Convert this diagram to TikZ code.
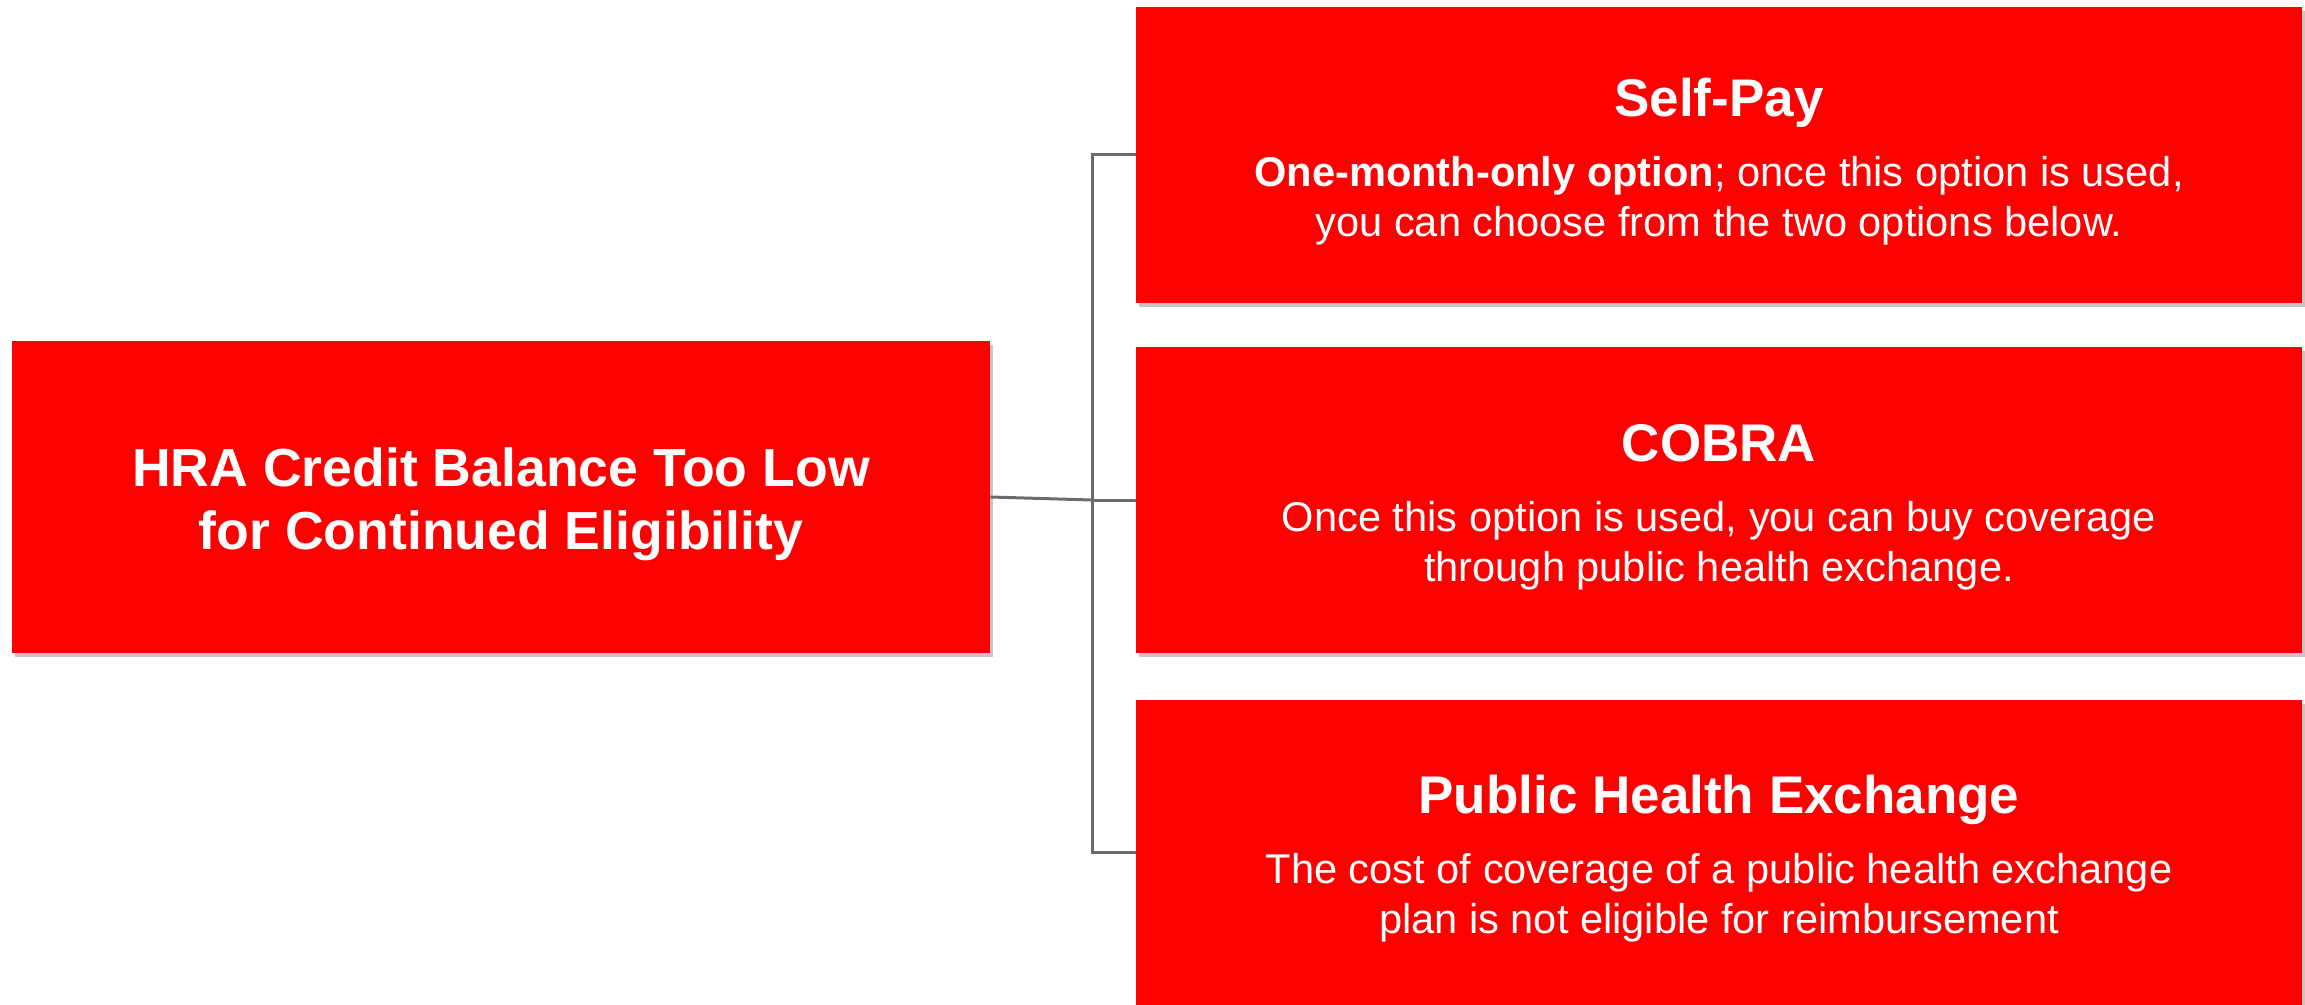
\documentclass[tikz,border=0pt]{standalone}
\usepackage{fontspec}
\setmainfont{Liberation Sans}
\usetikzlibrary{shadows}

\definecolor{boxred}{HTML}{FD0000}
\definecolor{linegray}{HTML}{6B6B6B}

\tikzset{
  redbox/.style={fill=boxred, inner sep=0pt,
    drop shadow={shadow xshift=1.5pt, shadow yshift=-2pt, opacity=0.22, fill=black}},
  optbox/.style={redbox, minimum width=583pt},
  boxtext/.style={text=white, inner sep=0pt, align=center, yshift=-3.5pt},
  opttext/.style={boxtext, font=\fontsize{20.8}{25}\selectfont},
  conn/.style={draw=linegray, line width=1.5pt}
}
\newcommand{\opttitle}[1]{{\fontsize{26.5}{30}\selectfont\bfseries #1}\\[10pt]}

\begin{document}
\begin{tikzpicture}[x=0.5pt, y=-0.5pt]
            \useasboundingbox (0, 0) rectangle (2305, 1005);

            % main box on the left
            \node[redbox, minimum width=489pt, minimum height=156pt] (hra) at (501, 497) {};
            \node[boxtext, font=\fontsize{26.8}{31.5}\selectfont\bfseries] (hra-text) at (hra.center)
                  {HRA Credit Balance Too Low\\for Continued Eligibility};

            % the three options
            \node[optbox, minimum height=148pt] (selfpay) at (1719, 155) {};
            \node[optbox, minimum height=152.5pt] (cobra) at (1719, 500) {};
            \node[optbox, minimum height=152.5pt] (exchange) at (1719, 852) {};

            \node[opttext] (selfpay-text) at (selfpay.center)
                  {\opttitle{Self-Pay}\textbf{One-month-only option}; once this option is used,\\you can choose from the two options below.};
            \node[opttext] (cobra-text) at (cobra.center)
                  {\opttitle{COBRA}Once this option is used, you can buy coverage\\through public health exchange.};
            \node[opttext] (exchange-text) at (exchange.center)
                  {\opttitle{Public Health Exchange}The cost of coverage of a public health exchange\\plan is not eligible for reimbursement};

            % bracket connector
            \coordinate (split) at (1092, 500);
            \draw[conn] (hra.east) -- (split);
            \draw[conn] (selfpay.west) -| (split) |- (exchange.west);
            \draw[conn] (split) -- (cobra.west);
        \end{tikzpicture}
\end{document}
